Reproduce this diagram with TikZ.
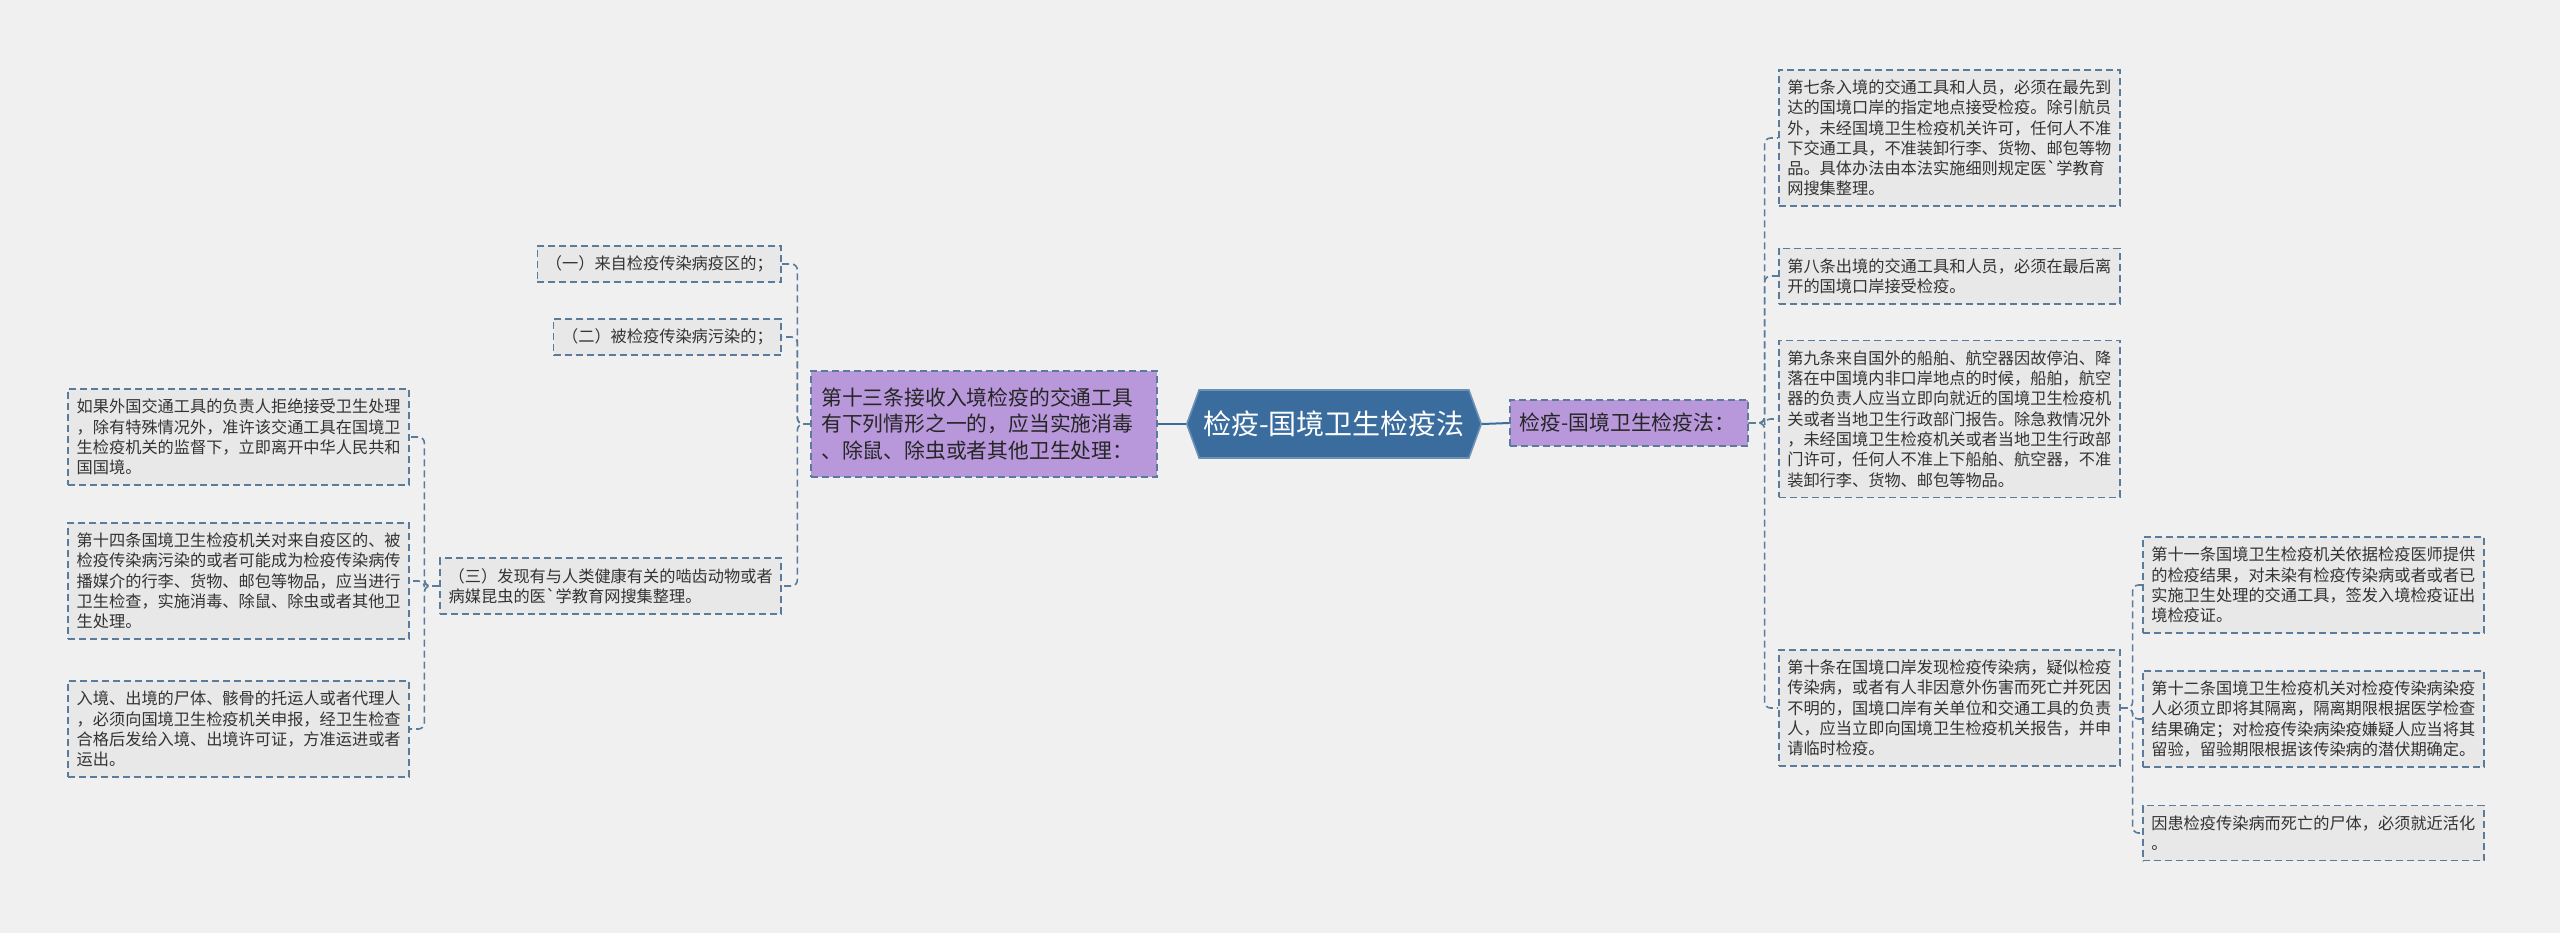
\documentclass[tikz,border=0pt]{standalone}
\usepackage{fontspec}
\setmainfont{Noto Sans CJK SC}
\usetikzlibrary{shapes.symbols}
\begin{document}
\begin{tikzpicture}[x=0.5pt,y=-0.5pt]
\definecolor{cbg}{HTML}{F0F0F0}\definecolor{cleaf}{HTML}{E8E8E8}
\definecolor{cline}{HTML}{5A7B9A}\definecolor{croot}{HTML}{3A6D9E}
\definecolor{cpurple}{HTML}{B898DB}\definecolor{ctext}{HTML}{333333}
\tikzset{leaf/.style={draw=cline,dash pattern=on 3.5pt off 2pt,line width=0.8pt,fill=cleaf,inner xsep=4.25pt,inner ysep=5pt,align=left,text=ctext,font=\fontsize{8.1pt}{10.15pt}\selectfont},
 leafw/.style={leaf,text width=162pt},
 topic/.style={draw=cline,dash pattern=on 3.5pt off 2pt,line width=0.8pt,fill=cpurple,inner xsep=5pt,inner ysep=2pt,align=left,text=black!85,font=\fontsize{10.4pt}{13.3pt}\selectfont},
 rootbox/.style={signal,signal to=east and west,signal pointer angle=140,draw=croot!75!white,line width=0.8pt,fill=croot,text=white,font=\fontsize{14pt}{16pt}\selectfont,minimum width=146.5pt,minimum height=34pt,inner xsep=2pt},
 rootline/.style={draw=croot,line width=1pt},
 link/.style={draw=cline,dash pattern=on 3.5pt off 2pt,line width=0.8pt,rounded corners=3pt}}
\path[use as bounding box,fill=cbg] (0,0) rectangle (2560,933);
\node[rootbox] (root) at (1334,424) {检疫-国境卫生检疫法};
\node[topic,anchor=west,text width=109pt,minimum height=23pt] (lawR) at (1509,423) {检疫-国境卫生检疫法：};
\node[topic,anchor=east,text width=163pt,minimum height=53pt] (art13) at (1158,424) {第十三条接收入境检疫的交通工具\\有下列情形之一的，应当实施消毒\\、除鼠、除虫或者其他卫生处理：};
\node[leafw,anchor=west] (art7) at (1778,138) {第七条入境的交通工具和人员，必须在最先到\\达的国境口岸的指定地点接受检疫。除引航员\\外，未经国境卫生检疫机关许可，任何人不准\\下交通工具，不准装卸行李、货物、邮包等物\\品。具体办法由本法实施细则规定医\textasciigrave 学教育\\网搜集整理。};
\node[leafw,anchor=west] (art8) at (1778,276) {第八条出境的交通工具和人员，必须在最后离\\开的国境口岸接受检疫。};
\node[leafw,anchor=west] (art9) at (1778,419) {第九条来自国外的船舶、航空器因故停泊、降\\落在中国境内非口岸地点的时候，船舶，航空\\器的负责人应当立即向就近的国境卫生检疫机\\关或者当地卫生行政部门报告。除急救情况外\\，未经国境卫生检疫机关或者当地卫生行政部\\门许可，任何人不准上下船舶、航空器，不准\\装卸行李、货物、邮包等物品。};
\node[leafw,anchor=west] (art10) at (1778,708) {第十条在国境口岸发现检疫传染病，疑似检疫\\传染病，或者有人非因意外伤害而死亡并死因\\不明的，国境口岸有关单位和交通工具的负责\\人，应当立即向国境卫生检疫机关报告，并申\\请临时检疫。};
\node[leafw,anchor=west] (art11) at (2142,585) {第十一条国境卫生检疫机关依据检疫医师提供\\的检疫结果，对未染有检疫传染病或者或者已\\实施卫生处理的交通工具，签发入境检疫证出\\境检疫证。};
\node[leafw,anchor=west] (art12) at (2142,719) {第十二条国境卫生检疫机关对检疫传染病染疫\\人必须立即将其隔离，隔离期限根据医学检查\\结果确定；对检疫传染病染疫嫌疑人应当将其\\留验，留验期限根据该传染病的潜伏期确定。};
\node[leafw,anchor=west] (corpse) at (2142,833) {因患检疫传染病而死亡的尸体，必须就近活化\\。};
\node[leaf,anchor=east] (case1) at (782,264) {（一）来自检疫传染病疫区的；};
\node[leaf,anchor=east] (case2) at (782,337) {（二）被检疫传染病污染的；};
\node[leafw,anchor=east] (case3) at (782,586) {（三）发现有与人类健康有关的啮齿动物或者\\病媒昆虫的医\textasciigrave 学教育网搜集整理。};
\node[leafw,anchor=east] (refuse) at (410,437) {如果外国交通工具的负责人拒绝接受卫生处理\\，除有特殊情况外，准许该交通工具在国境卫\\生检疫机关的监督下，立即离开中华人民共和\\国国境。};
\node[leafw,anchor=east] (art14) at (410,581) {第十四条国境卫生检疫机关对来自疫区的、被\\检疫传染病污染的或者可能成为检疫传染病传\\播媒介的行李、货物、邮包等物品，应当进行\\卫生检查，实施消毒、除鼠、除虫或者其他卫\\生处理。};
\node[leafw,anchor=east] (remains) at (410,729) {入境、出境的尸体、骸骨的托运人或者代理人\\，必须向国境卫生检疫机关申报，经卫生检查\\合格后发给入境、出境许可证，方准运进或者\\运出。};
\draw[rootline] (root.east) -- (lawR.west);
\draw[rootline] (root.west) -- (art13.east);
\draw[link] (lawR.east) -- ++(16,0) |- (art7.west);
\draw[link] (lawR.east) -- ++(16,0) |- (art8.west);
\draw[link] (lawR.east) -- ++(16,0) |- (art9.west);
\draw[link] (lawR.east) -- ++(16,0) |- (art10.west);
\draw[link] (art10.east) -- ++(12,0) |- (art11.west);
\draw[link] (art10.east) -- ++(12,0) |- (art12.west);
\draw[link] (art10.east) -- ++(12,0) |- (corpse.west);
\draw[link] (art13.west) -- ++(-13,0) |- (case1.east);
\draw[link] (art13.west) -- ++(-13,0) |- (case2.east);
\draw[link] (art13.west) -- ++(-13,0) |- (case3.east);
\draw[link] (case3.west) -- ++(-15,0) |- (refuse.east);
\draw[link] (case3.west) -- ++(-15,0) |- (art14.east);
\draw[link] (case3.west) -- ++(-15,0) |- (remains.east);
\end{tikzpicture}
\end{document}
